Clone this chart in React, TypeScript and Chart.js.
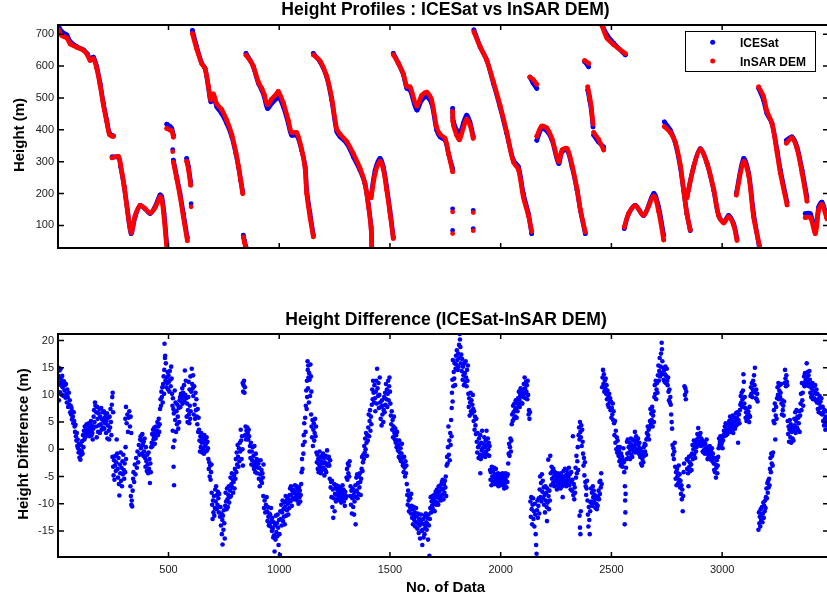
import { useEffect, useRef } from "react";
import { Chart, registerables } from "chart.js";

Chart.register(...registerables);

type Pair = [number, number];

const FONT = "'Liberation Sans', Arial, Helvetica, sans-serif";
const BLUE = "#0000ff";
const RED = "#ff0000";
const INK = "#1a1a1a";

// Axis ranges and tick values
const N_MIN = 1;
const N_MAX = 3478;
const N_TICKS = [500, 1000, 1500, 2000, 2500, 3000];
const HEIGHT_MIN = 29;
const HEIGHT_MAX = 729;
const HEIGHT_TICKS = [100, 200, 300, 400, 500, 600, 700];
const DIFF_MIN = -19.8;
const DIFF_MAX = 21.2;
const DIFF_TICKS = [-15, -10, -5, 0, 5, 10, 15, 20];

const SERIES_NAMES = ["ICESat", "InSAR DEM"];

// ICESat profiles: each inner list is one continuous track of [No. of Data, height (m)]
const ICESAT_TRACKS_0: Pair[][] = [
  [[3, 726], [18, 708], [41, 698], [56, 677], [86, 661], [116, 651], [134, 638], [146, 621], [161, 628], [176, 598], [191, 546], [206, 483], [221, 430], [233, 390], [244, 383], [251, 381]],
  [[245, 315], [274, 313], [284, 284], [300, 221], [315, 147], [331, 74], [349, 126], [372, 163], [394, 152], [417, 137], [439, 158], [462, 196], [470, 189], [480, 137], [492, 42]],
  [[492, 418], [508, 410], [515, 404], [522, 383]],
  [[519, 338]],
  [[522, 305], [537, 252], [552, 200], [567, 137], [585, 61]],
  [[582, 310], [590, 284], [600, 236]],
  [[602, 168]],
  [[608, 712], [627, 661], [650, 609], [665, 593], [680, 535], [691, 488], [703, 504], [718, 472], [740, 451], [763, 420], [786, 378], [804, 326], [816, 284], [826, 242], [835, 205]],
  [[838, 69], [843, 52], [850, 32]],
  [[850, 640], [868, 619], [883, 598], [906, 546], [921, 525], [932, 504], [947, 467], [966, 483], [989, 499], [996, 506], [1019, 472], [1041, 420], [1056, 383], [1079, 383], [1101, 336], [1117, 284], [1124, 210], [1139, 137], [1154, 69]],
];

const ICESAT_TRACKS_1: Pair[][] = [
  [[1154, 640], [1184, 614], [1214, 567], [1237, 493], [1260, 394], [1275, 378], [1305, 357], [1335, 315], [1365, 273], [1387, 231], [1402, 168], [1415, 95], [1418, 32]],
  [[1415, 194], [1433, 273], [1455, 310], [1470, 284], [1485, 221], [1500, 147], [1515, 63]],
  [[1515, 640], [1538, 609], [1561, 572], [1576, 530], [1591, 525], [1621, 462], [1643, 493], [1666, 504], [1688, 483], [1711, 399], [1726, 378], [1749, 367], [1764, 326], [1783, 278]],
  [[1783, 467], [1784, 437], [1787, 425], [1801, 399], [1814, 386], [1831, 420], [1846, 446], [1861, 425], [1876, 380]],
  [[1783, 152]],
  [[1783, 84]],
  [[1876, 147]],
  [[1876, 90]],
  [[1879, 714], [1907, 661], [1937, 619], [1967, 546], [1997, 472], [2027, 389], [2057, 305], [2080, 284], [2102, 200], [2125, 137], [2140, 74]],
  [[2132, 565], [2147, 546], [2163, 530]],
  [[2163, 367], [2185, 404], [2208, 397], [2232, 367], [2262, 294], [2277, 331], [2300, 336], [2322, 284], [2345, 210], [2360, 147], [2382, 74]],
];

const ICESAT_TRACKS_2: Pair[][] = [
  [[2379, 614], [2397, 598]],
  [[2393, 525], [2402, 493], [2409, 462], [2417, 409]],
  [[2420, 383], [2442, 362], [2465, 346]],
  [[2458, 729], [2480, 698], [2510, 672], [2563, 635]],
  [[2558, 90], [2578, 137], [2608, 163], [2646, 131], [2691, 200], [2713, 158], [2736, 69]],
  [[2739, 425], [2766, 399], [2789, 357], [2811, 283], [2826, 210], [2841, 137], [2856, 84]],
  [[2841, 189], [2871, 283], [2901, 341], [2932, 294], [2962, 210], [2984, 131], [3007, 110], [3029, 131], [3052, 105], [3067, 58]],
  [[3064, 200], [3097, 310], [3120, 263], [3142, 137], [3169, 27]],
  [[3165, 530], [3187, 493], [3202, 451], [3225, 420], [3248, 336], [3263, 273], [3293, 173]],
  [[3290, 367], [3315, 378], [3338, 346], [3361, 273], [3383, 189]],
  [[3375, 137], [3398, 137], [3421, 84], [3436, 158], [3451, 173], [3473, 126]],
];

// Height difference ICESat - InSAR DEM: [No. of Data, metres]
const DIFF_0_500: Pair[] = [
  [2, 13.5], [4, 15], [5, 9], [7, 12.2], [8, 14.5], [10, 10.5], [12, 13], [13, 14.8], [15, 11.8], [17, 12.8], [19, 10], [20, 13.5], [22, 11.4], [24, 12.3], [26, 9.8],
  [28, 12.5], [30, 10.8], [32, 11.8], [35, 9.5], [37, 12], [39, 10.2], [41, 8.6], [43, 11], [45, 9.6], [47, 7.8], [50, 10.4], [52, 8.2], [54, 9], [56, 6.8],
  [58, 8], [60, 6.4], [62, 7.6], [64, 5.5], [66, 7], [68, 6], [70, 4.8],
  [72, 6.8], [74, 5.2], [76, 4.2], [78, 3.2], [80, 4.5], [82, 2.4], [84, 1.6], [86, 3], [88, 0.6], [90, 1.8], [92, 0.2], [94, -0.6], [96, 1], [98, -1.5], [100, -0.2], [102, -1.9], [104, 0.8], [106, -1], [108, -0.3],
  [110, 1.5], [112, -0.8], [114, 2.6], [116, 0.4], [118, 3.4], [120, 1.8], [122, 4.2], [124, 2.2], [126, 3.5], [128, 2.8], [130, 4.6],
  [132, 3], [134, 4.2], [136, 2.6], [138, 3.8], [140, 4.8], [142, 3.2], [144, 2.4], [146, 4],
  [148, 3.4], [150, 5.2], [152, 2.6], [154, 4.4], [156, 3], [158, 1.8], [160, 3.8], [162, 6], [164, 7.2], [166, 5], [168, 8.6], [170, 8], [172, 4.2], [174, 6.8], [176, 2.2],
  [178, 7.8], [180, 5.6], [182, 3.2], [184, 6.6], [186, 4.4], [188, 7.4], [190, 3],
  [192, 6], [194, 4.6], [196, 7.6], [198, 3.6], [200, 5.5], [202, 6.8], [204, 4], [206, 5.2], [208, 7], [210, 3.8], [212, 5.8], [214, 4.8], [216, 6.4], [218, 3], [220, 5.2],
  [222, 6.6], [224, 2], [226, 4.4], [228, 5.8], [230, 3.4], [232, 1.8], [234, 6], [236, 4], [238, 7.4], [240, 5], [242, 2.6], [244, 8.2], [246, 9.6], [248, 10.4], [250, 6.8],
  [247, -1.4], [250, -3.2], [252, -4.8], [254, -2], [256, -5.6], [258, -3], [260, -1.2], [262, -4], [264, -2.4], [266, 1.8], [268, -0.8],
  [270, -3.6], [272, -5.2], [274, -1.6], [276, -6.4], [278, -8.5], [280, -2.8], [282, -4.4], [284, -0.6], [286, -5.8], [288, -3.4], [290, -6.8], [292, -2.2], [294, -4.6],
  [296, -1], [298, -3.8], [300, -5.4], [302, -2.6], [304, -4.2], [306, 0.4], [308, -1.8],
  [305, 5.6], [308, 7.8], [311, 4.8], [314, 6.4], [317, 3.2], [320, 5.8], [323, 7], [326, 4.2], [329, 6], [332, 3],
  [328, -6.8], [330, -8.6], [332, -10.2], [334, -9.4], [336, -10.5], [338, -7.6], [340, -5.4],
  [342, -4.2], [345, -6], [348, -2.8], [351, -4.6], [354, -1.6], [357, -3.4], [360, -0.4], [363, -2.4], [366, 0.8], [369, -1], [372, 1.8],
  [374, 2.4], [376, 0.2], [378, 1.6], [380, -0.8], [382, 2.8], [384, 0.8], [386, -1.2], [388, 1.4], [390, -0.4], [392, 2],
  [394, -1.6], [396, -3.2], [398, 0.4], [400, -2.2], [402, -4], [404, -1], [406, -2.8], [408, -4.4], [410, -0.6], [412, -3.6], [414, -1.8], [416, -6.2], [418, -2.6], [420, -4.2], [422, 0.4],
  [424, 1.2], [426, 2.8], [428, 0.6], [430, 3.6], [432, 1.8], [434, 2.4], [436, 4], [438, 1], [440, 3], [442, 2], [444, 4.2], [446, 2.6],
  [448, 3.4], [450, 5], [452, 2.6], [454, 4.2], [456, 5.6], [458, 3.2], [460, 4.6],
  [462, 7.4], [464, 9.2], [466, 8], [468, 10.6], [470, 9.6], [472, 11.4], [474, 8.6], [476, 12],
  [478, 13.4], [480, 10.2], [481, 14.6], [482, 19.4], [484, 16.8], [485, 17.2], [486, 12.6], [488, 15.8], [490, 11.4], [492, 13.2],
  [494, 12.2], [496, 14.2], [498, 11],
];

const DIFF_500_1000: Pair[] = [
  [500, 13.6], [502, 12.4], [504, 10.6], [506, 14.4], [508, 12.8], [510, 11.6], [512, 15.2], [514, 13],
  [516, 10.2], [518, 8], [519, 3.4], [520, 9.4], [521, 0.4], [522, 7.4], [523, -3.2], [524, 6.6], [525, -6.6], [527, 1.6], [528, 10.8],
  [530, 5.4], [532, 8.6], [534, 3.2], [536, 7], [538, 4.6], [540, 8.2], [542, 6], [544, 3.8], [546, 7.6], [548, 5], [550, 9],
  [552, 9.6], [554, 7.8], [556, 10.2], [558, 8.8],
  [560, 9.2], [562, 11.2], [564, 8.4], [566, 10.4], [568, 9.8], [570, 11.8], [572, 8.8], [574, 14.5], [576, 10], [578, 12.6], [580, 9.4],
  [582, 6], [584, 8.4], [586, 5], [588, 7.2], [590, 9.6], [592, 6.4], [594, 4.8], [596, 8], [598, 5.6], [600, 7],
  [591, 12.4], [595, 11], [599, 13.4], [603, 10.6], [605, 14.8], [607, 12], [609, 11.2], [611, 13.6],
  [612, 9.8], [614, 6.4], [616, 11.6], [618, 8.2], [620, 5.6], [622, 10.4], [624, 7.2], [626, 9.2], [628, 6],
  [630, 4.6], [632, 7.4], [634, 3.2], [636, 5.8],
  [638, 3.6], [640, 1.6], [642, -0.4], [644, 2.4], [646, 0.4], [648, 3], [650, 1.2],
  [652, -0.6], [654, 2], [656, 0], [658, 1.4], [660, -0.8], [662, 2.6], [664, 0.6], [666, 1.8], [668, -0.4], [670, 1], [672, 2.2], [674, -0.2], [676, 1.4], [678, 0.2],
  [680, -1.8], [682, -3.6], [684, -2.4], [686, -5], [688, -3], [690, -5.6], [692, -4.2], [694, -2.8],
  [695, -8], [697, -10.2], [699, -12.8], [701, -9.4], [703, -11.6], [705, -8.6], [707, -12.2], [709, -10.8],
  [711, -7.4], [713, -9.6], [715, -6.8], [717, -11], [719, -8.4], [721, -10.2], [723, -7.8], [725, -9], [727, -11.6], [729, -8.2], [731, -10.6],
  [733, -12.4], [735, -10.6], [737, -14], [739, -11.8], [741, -15.6], [743, -13], [744, -17.5], [746, -12.2], [748, -14.8], [750, -11.2], [752, -13.6], [754, -16.4],
  [756, -10.4], [758, -8], [760, -9.6], [762, -11], [764, -7.2], [766, -9.2], [768, -10.6], [770, -8.4], [772, -6.8], [774, -9.8], [776, -8.8],
  [778, -7.6], [780, -5.2], [782, -8.6], [784, -6.4], [786, -4.4], [788, -7], [790, -5.6], [792, -8], [794, -6], [796, -4.8], [798, -7.2],
  [800, -3.6], [802, -5.4], [804, -1.8], [806, -4.2], [808, -0.6], [810, -2.8], [812, 0.8], [814, -1.4], [816, -3.2], [818, 0.2], [820, -2.2], [822, 1.2],
  [824, -0.4], [826, 3.6], [828, 1.6], [830, -1.8], [832, 2.4], [834, 0], [836, -3],
  [835, 12.2], [837, 10.6], [839, 11.8], [841, 12.6], [843, 10.4], [845, 11.4],
  [846, 2.6], [848, 4.2], [850, 1.8], [852, 3.4], [854, 2.2], [856, 4], [858, 3], [860, 1.8], [862, 3.6], [864, 2.4], [866, -0.4],
  [868, 0.6], [870, -1.6], [872, 1.2], [874, -2.8], [876, -0.4], [878, -2], [880, 0.4], [882, -3],
  [884, -1.2], [886, -3.6], [888, 0.6], [890, -2.4], [892, -4.2], [894, -0.8], [896, -3], [898, -1.8], [900, -4.4], [902, -2], [904, -3.4],
  [906, -2.6], [908, -5.4], [910, -3.4], [912, -6.8], [914, -4.6], [916, -2], [918, -5.8], [920, -3.8], [922, -6.2], [924, -4.4], [926, -5.2], [929, -2.8],
  [928, -8.6], [931, -10.8], [934, -9.4], [937, -11.6], [940, -10.2], [943, -8.8],
  [945, -11.4], [947, -13.2], [949, -10.6], [951, -12.4], [953, -14], [955, -11.8], [957, -13.6], [959, -12], [961, -14.2], [963, -10.8], [965, -13],
  [967, -15], [969, -12.6], [971, -14.6], [973, -16.2], [975, -13.4], [977, -15.8], [979, -18.8], [981, -14], [983, -16.6], [985, -12.2], [987, -15.2],
  [989, -13.6], [991, -16], [993, -12], [995, -14.4], [997, -17.6], [999, -13],
];

const DIFF_1000_1500: Pair[] = [
  [1001, -15.6], [1003, -19.4], [1005, -11.4],
  [1007, -12.8], [1009, -10.2], [1011, -14], [1013, -11.6], [1015, -9.4], [1017, -13.2], [1019, -11], [1021, -12.4], [1023, -9.8], [1025, -13.8],
  [1027, -10.6], [1029, -8.6], [1031, -12.2], [1033, -9.4], [1035, -11.2], [1037, -8.8], [1039, -10], [1041, -12], [1043, -9.2], [1045, -10.8], [1047, -8.4],
  [1049, -7.2], [1051, -9.6], [1053, -6.8], [1055, -8.4], [1057, -10.4], [1059, -7.6], [1061, -9], [1063, -8],
  [1065, -7.4], [1067, -9.2], [1069, -8], [1071, -6.6], [1073, -9], [1075, -7.8], [1077, -8.6], [1079, -6.8], [1081, -9.4], [1083, -7.2], [1085, -8.2], [1087, -10], [1089, -7], [1091, -8.8], [1093, -7.6], [1095, -9.6], [1097, -8.4], [1099, -6.4],
  [1101, -4.2], [1103, -1.8], [1105, -3.6], [1107, 0.8], [1109, -0.8], [1111, 2.6], [1113, 4.8], [1115, 1.4], [1117, 5.8], [1119, 3.2],
  [1120, 8], [1122, 10.8], [1124, 7.4], [1125, 12.6], [1126, 9.6], [1128, 16.2], [1129, 14.6], [1130, 11.2], [1131, 15.4], [1132, 13.2], [1134, 8.6], [1135, 14], [1137, 12.8], [1139, 9.8], [1141, 15.6], [1143, 13.4], [1145, 10.6],
  [1144, 6.4], [1146, 4.2], [1148, 2.2], [1150, 5.4], [1152, 0.6], [1154, 3.6], [1156, 4.8], [1158, 1.6], [1160, 3], [1162, 5.6], [1164, 2.4], [1166, 4.2],
  [1168, -0.6], [1170, -2.4], [1172, -1], [1174, -3.6], [1176, -1.8], [1178, -4.2], [1180, -2.8], [1182, -0.4], [1184, -3.2], [1186, -1.4], [1188, -4.4], [1190, -2.2], [1192, -3.8], [1194, -1.2], [1196, -2.6], [1198, -0.8],
  [1200, -3.4], [1202, -1.6], [1204, -4.8], [1206, -2.4], [1208, -3.8], [1210, -1.2], [1212, -4.2], [1214, -2.8], [1216, -0.2], [1218, -3], [1220, -1.6],
  [1222, -2.6], [1224, -1.4], [1226, -3], [1228, -5.4], [1230, -2], [1232, -7], [1234, -6], [1236, -8.8], [1238, -5.8], [1240, -10.6], [1242, -7.4], [1244, -12.6], [1246, -9], [1248, -6.4], [1250, -11.4], [1252, -8.2], [1254, -7], [1256, -9.6], [1258, -6.6],
  [1260, -8.4], [1262, -7.4], [1264, -9.2], [1266, -8], [1268, -6.8], [1270, -8.8], [1272, -7.6], [1274, -9.4], [1276, -7], [1278, -8.4], [1280, -9.8], [1282, -7.8], [1284, -8.6], [1286, -6.6], [1288, -9],
  [1290, -7.4], [1292, -9.6], [1294, -8.2], [1296, -10.4], [1298, -7.8], [1300, -9], [1302, -8.6], [1304, -5.2], [1306, -3.6], [1308, -5.6], [1310, -2.6], [1312, -4.4], [1314, -3], [1316, -5], [1318, -2.2],
  [1320, -8.6], [1322, -6.8], [1324, -10.2], [1326, -7.6], [1328, -11.8], [1330, -9], [1332, -7.2], [1334, -10.6], [1336, -8.4], [1338, -12], [1340, -9.6], [1342, -7.8], [1345, -13.8],
  [1344, -6.6], [1346, -8.8], [1348, -5.2], [1350, -7.6], [1352, -4.6], [1354, -9], [1356, -6.2], [1358, -8.2], [1360, -5], [1362, -7], [1364, -4.4], [1366, -6], [1368, -8.4], [1370, -5.4],
  [1372, -3.6], [1374, -1.4], [1376, -4], [1378, -2.4], [1380, -1],
  [1382, -1.8], [1384, 0.6], [1386, -0.6], [1388, 2], [1390, 0], [1392, 3], [1394, 1.2], [1396, -1.2], [1398, 2.6], [1400, 1.6],
  [1402, 4], [1404, 6.4], [1406, 2.4], [1408, 5.2], [1410, 7.2], [1412, 3.4], [1414, 6], [1416, 4.6],
  [1418, 8.2], [1420, 11], [1422, 9.2], [1424, 12.6], [1426, 10.4], [1428, 8.6], [1430, 11.8],
  [1432, 9.4], [1434, 7], [1436, 10.6], [1438, 12.6], [1440, 8.4], [1442, 14.8], [1444, 11.2], [1446, 9.8], [1448, 12.2], [1450, 7.6], [1452, 10], [1454, 13.2],
  [1456, 8.6], [1458, 5.6], [1460, 7.8], [1462, 4.4], [1464, 9], [1466, 6.4], [1468, 8], [1470, 5], [1472, 7.2], [1474, 9.6], [1476, 6.8],
  [1478, 10.4], [1480, 8.2], [1482, 12], [1484, 9.2], [1486, 11], [1488, 7.8], [1490, 10.2], [1492, 12.6], [1494, 9], [1496, 11.6], [1498, 13.2],
];

const DIFF_1500_2000: Pair[] = [
  [1500, 10.6],
  [1502, 8.4], [1504, 6.2], [1506, 4.6], [1508, 7], [1510, 3.6], [1512, 5.4], [1514, 2.2], [1516, 4.2], [1518, 6], [1520, 3], [1522, 1.8],
  [1524, 3.8], [1526, 1.2], [1528, 2.6], [1530, 0.4], [1532, 3.2], [1534, 1.6], [1536, -0.2],
  [1538, 0.8], [1540, -1.4], [1542, 1.6], [1544, -0.6], [1546, -1.8], [1548, 0.2], [1550, -2.2], [1552, -0.8], [1554, 1], [1556, -1.6], [1558, -3],
  [1560, -2.6], [1562, -4.2], [1564, -1.4], [1566, -3.4], [1568, -5], [1570, -2.2], [1572, -4.4], [1574, -3],
  [1576, -6.4], [1578, -8.4], [1580, -10.2], [1582, -7.6], [1584, -9.4], [1586, -11.4], [1588, -8.8], [1590, -10.6], [1592, -9], [1594, -11.8], [1596, -8.2],
  [1598, -10.4], [1600, -12.6], [1602, -11], [1604, -13.8], [1606, -12], [1608, -10.6], [1610, -13], [1612, -11.6], [1614, -14.2], [1616, -12.4], [1618, -10.8], [1620, -13.4],
  [1622, -12.2], [1624, -14.6], [1626, -11.8], [1628, -13.6], [1630, -15.4], [1632, -12.8], [1634, -14], [1636, -16.4], [1638, -13.2], [1640, -12], [1642, -15],
  [1644, -13.6], [1646, -17.6], [1648, -14.8], [1650, -12.8], [1652, -16.2], [1654, -13.8], [1656, -15.6],
  [1658, -12.2], [1660, -14.4], [1662, -11.8], [1664, -13.4], [1666, -14.8], [1668, -12.6], [1670, -13.8], [1672, -16.6], [1674, -12], [1676, -14], [1678, -19.6], [1680, -12.8],
  [1682, -10.8], [1684, -8.8], [1686, -11.6], [1688, -9.6], [1690, -10.4], [1692, -8.6], [1694, -11], [1696, -9.2], [1698, -10], [1700, -8.4], [1702, -11.4], [1704, -9.6], [1706, -7.8], [1708, -10.2], [1710, -8.8],
  [1712, -7.4], [1714, -9.8], [1716, -8.2], [1718, -10.2], [1720, -6.8], [1722, -9], [1724, -7.8], [1726, -8.8], [1728, -6.6], [1730, -9.4], [1732, -7.2],
  [1734, -6], [1736, -8.4], [1738, -5.6], [1740, -7.4], [1742, -9.2], [1744, -6.4], [1746, -8], [1748, -5.8], [1750, -7], [1752, -5], [1754, -8.6],
  [1756, -3], [1758, -1.4], [1760, -2.6], [1762, 0.4], [1764, 4.2], [1766, -1], [1768, 1.6], [1770, -2], [1772, 3], [1774, 0.8], [1776, 5.4], [1778, 2.4],
  [1779, 7.6], [1780, 10.4], [1782, 12.8], [1783, 8.8], [1784, 16.4], [1786, 11.6], [1788, 14.2], [1790, 13], [1792, 15.8], [1794, 11.8],
  [1796, 14.8], [1798, 17.2], [1800, 15.6], [1802, 18.2], [1804, 16.4], [1806, 14.6], [1808, 17.6], [1810, 15.2], [1812, 19.2], [1814, 16.8], [1815, 21.2], [1816, 20.2], [1818, 18.8], [1820, 15.8], [1822, 17.4],
  [1824, 14.4], [1826, 16.6], [1828, 12.8], [1830, 15.2], [1832, 13.6], [1834, 11.8], [1836, 15.8], [1838, 14], [1840, 12.4], [1842, 16.2], [1844, 13.2], [1846, 11.6], [1848, 14.6], [1850, 12.6], [1852, 15.4],
  [1854, 10.2], [1856, 7.8], [1858, 9.4], [1860, 6.2], [1862, 8.6], [1864, 10.4], [1866, 7], [1868, 9], [1870, 6.6], [1872, 8.2], [1874, 10], [1876, 7.4],
  [1878, 5.2], [1880, 7], [1882, 3.6], [1884, 6], [1886, 4.4], [1888, 2.8], [1890, 5.6],
  [1892, 1.4], [1894, -0.6], [1896, 3], [1898, 0.4], [1900, -1.6], [1902, 2], [1904, 0.8], [1906, -1], [1908, 2.6], [1910, -1.8], [1912, 1.2], [1914, -0.2], [1916, 3.4], [1918, 0.2], [1920, -1.2],
  [1922, 1], [1924, -0.8], [1926, 2.2], [1928, 0.4], [1930, -1.4], [1932, 1.6], [1934, -0.4], [1936, 3.4], [1938, 0.8], [1940, -1], [1942, 2], [1944, 0], [1946, 1.2], [1948, -1.2], [1950, 0.6],
  [1908, -4.4], [1952, -3.8], [1954, -5.6], [1956, -4.2], [1958, -6.6], [1960, -3.2], [1962, -5], [1964, -6], [1966, -4], [1968, -5.4], [1970, -3.4], [1972, -6.4], [1974, -4.6], [1976, -5.8], [1978, -3.6], [1980, -5.2],
  [1982, -6.4], [1984, -4.8], [1986, -5.8], [1988, -4.4], [1990, -6.8], [1992, -5.2], [1994, -6], [1996, -4.6], [1998, -5.6],
];

const DIFF_2000_2500: Pair[] = [
  [2000, -6.6], [2002, -4.8], [2004, -5.4], [2006, -6.2], [2008, -4.4], [2010, -5.8],
  [2012, -6.6], [2014, -4.8], [2016, -7.2], [2018, -5.4], [2020, -6.2], [2022, -4.4], [2024, -5.8], [2026, -7], [2028, -5], [2030, -6], [2032, -4.6],
  [2034, -2.6], [2036, -0.8], [2038, 1], [2040, -1.2], [2042, 0.4], [2044, 2], [2046, -0.4], [2048, 1.6],
  [2050, 4.6], [2052, 6.4], [2054, 5.2], [2056, 8], [2058, 6.8], [2060, 5.6], [2062, 8.4], [2064, 7.2], [2066, 6], [2068, 9], [2070, 7.6], [2072, 5.8], [2074, 8.6], [2076, 7], [2078, 9.4],
  [2080, 8.2], [2082, 10.6], [2084, 9.2], [2086, 7.8], [2088, 10], [2090, 11.2], [2092, 8.6], [2094, 9.8], [2096, 11], [2098, 8.4], [2100, 10.4],
  [2102, 9.6], [2104, 12], [2106, 10.2], [2108, 13.2], [2110, 11.2], [2112, 9.4], [2114, 12.4], [2116, 10.6], [2118, 11.8], [2120, 9.2], [2122, 12.6], [2124, 10],
  [2126, 6.4], [2128, 7.2], [2130, 5.6], [2132, 6.8],
  [2134, -9.6], [2136, -12.4], [2138, -8.8], [2140, -11], [2142, -13.8], [2144, -10.2], [2146, -9], [2148, -12.8], [2150, -11.4], [2152, -14.2], [2154, -10], [2156, -12], [2158, -15.6], [2160, -17.6], [2162, -19.2],
  [2164, -11.2], [2166, -9.4], [2168, -12.6], [2170, -10.4], [2172, -9], [2174, -11.8],
  [2176, -7.4], [2178, -5], [2180, -8.8], [2182, -6.2], [2184, -9.6], [2186, -4.6], [2188, -7.8], [2190, -5.8], [2192, -9],
  [2194, -7], [2196, -10.2], [2198, -8.4], [2200, -11.6], [2202, -6.8], [2204, -9.4], [2206, -8], [2208, -10.6], [2209, -13.2], [2210, -7.2], [2212, -9.8], [2215, -1.9], [2216, -8.6], [2218, -11], [2220, -7.6], [2222, -9.4],
  [2224, -1.2], [2226, -4.4], [2228, -6.6], [2230, -3.2], [2232, -5.4], [2234, -4], [2236, -6.2], [2238, -3.6], [2240, -5], [2242, -6.8], [2244, -4.2], [2246, -5.8],
  [2248, -4.6], [2250, -6.6], [2252, -5.2], [2254, -7.4], [2256, -4.4], [2258, -6], [2260, -5.4], [2262, -7], [2264, -4.8], [2266, -6.4], [2268, -5.6], [2270, -7.2], [2272, -4.4], [2274, -6.2], [2276, -5], [2278, -6.8], [2280, -8.8], [2282, -5.6],
  [2284, -4], [2286, -6.4], [2288, -5], [2290, -3.6], [2292, -6], [2294, -4.8], [2296, -6.8], [2298, -3.8], [2300, -5.6], [2302, -4.4], [2304, -6.2], [2306, -5.2], [2308, -3.4], [2310, -6.6], [2312, -4.6], [2314, -5.8], [2316, -7.4], [2318, -4.2], [2320, -6],
  [2322, -7.6], [2324, -5.6], [2326, 2.4], [2328, -8.4], [2330, -6.4], [2332, -9.2], [2334, -7], [2336, -8],
  [2338, -3.4], [2340, -5.2], [2342, -1.2], [2344, -4.4], [2346, -2.2], [2348, 0.4], [2350, -3.8],
  [2352, 2.6], [2354, 4], [2356, 1.8], [2358, 5], [2360, 3.2], [2362, 2.2], [2364, 4.4], [2366, 0.6], [2368, 3.6], [2370, 1.4],
  [2356, -12.2], [2358, -14.4], [2360, -15.6], [2362, -11.4],
  [2372, -0.8], [2374, -3], [2376, -1.6], [2378, -4.8], [2380, -2.4], [2382, -6],
  [2384, -6.8], [2386, -8.4], [2388, -7.2], [2390, -5.8],
  [2392, -9.4], [2394, -12], [2396, -14.2], [2398, -10.6], [2400, -13], [2402, -15.6], [2404, -11.4], [2406, -9.8],
  [2408, -7.2], [2410, -9.6], [2412, -8], [2414, -10.4], [2416, -6.8], [2418, -8.8], [2420, -7.6], [2422, -9.8], [2424, -8.4],
  [2426, -9.2], [2428, -10.8], [2430, -8.6], [2432, -10], [2434, -11], [2436, -9], [2438, -10.4], [2440, -8.8],
  [2442, -7.6], [2444, -9.2], [2446, -6], [2448, -8.2], [2450, -5.8], [2452, -7], [2454, -4.4], [2456, -6.4],
  [2458, 11.4], [2460, 13.2], [2462, 14.6], [2464, 12], [2466, 13.8], [2468, 10.6], [2470, 12.6], [2472, 11.2], [2474, 13], [2476, 10.2], [2478, 11.8],
  [2480, 9.2], [2482, 10.8], [2484, 8.2], [2486, 9.8], [2488, 7.8], [2490, 10.2], [2492, 8.6], [2494, 9.4],
  [2496, 7.2], [2498, 8.8],
];

const DIFF_2500_3000: Pair[] = [
  [2500, 5.8], [2502, 7.6], [2504, 6.4], [2506, 8.4], [2508, 5.4], [2510, 7],
  [2512, 4.8], [2514, 2.6], [2516, 5.2], [2518, 1.2], [2520, 3.4], [2522, 0], [2524, 2.2], [2526, -0.6], [2528, 1.6], [2530, 0.4], [2532, -1.2],
  [2534, -0.2], [2536, -2.2], [2538, 0.4], [2540, -1.6], [2542, -3], [2544, -0.8], [2546, -2.6], [2548, -1.4], [2550, -3.2], [2552, -2], [2554, 0.2],
  [2556, -2.4], [2558, -4.2], [2560, -13.8], [2561, -6.8], [2562, -9.4], [2563, -11.6], [2564, -8.2], [2566, -3.4], [2568, -1.8],
  [2570, 1.4], [2572, -0.8], [2574, 1.8], [2576, -1.6], [2578, 0.4], [2580, -0.6], [2582, 1.2], [2584, -1.8], [2586, 0], [2588, 2], [2590, -1], [2592, 0.8], [2594, -1.4], [2596, 0.2], [2598, 1.6],
  [2600, -0.4], [2602, 1.8], [2604, 0.6], [2606, 3.2], [2608, -0.6], [2610, 1], [2612, 2.4], [2614, 0], [2616, 1.4], [2618, -0.2], [2620, 2], [2622, 0.8], [2624, -0.8], [2626, 1.2], [2628, 0.2],
  [2630, -1.4], [2632, -0.2], [2634, -2.6], [2636, -1], [2638, -3], [2640, -1.8], [2642, -0.6], [2644, -2.4],
  [2646, 0.4], [2648, -1.2], [2650, 1], [2652, -0.4], [2654, 0.8], [2656, -1], [2658, 1.8], [2660, 3], [2662, 2], [2664, 4.2], [2666, 2.6], [2668, 3.6], [2670, 1.8], [2672, 4],
  [2674, 5.2], [2676, 7.4], [2678, 4.6], [2680, 6.6], [2682, 5.4], [2684, 7.8], [2686, 4.2], [2688, 6.2], [2690, 7], [2692, 5],
  [2694, 9.6], [2696, 11.8], [2698, 10.2], [2700, 12.6], [2702, 9.2], [2704, 11], [2706, 12.2], [2708, 10.4],
  [2710, 13.6], [2712, 15.4], [2714, 12.6], [2716, 14.4], [2718, 16.8], [2720, 13.4], [2722, 15.2], [2724, 17.6], [2726, 14], [2727, 19.6], [2728, 18.4], [2730, 16.2], [2732, 13.8], [2734, 15], [2736, 12.8],
  [2738, 14.6], [2740, 12.4], [2742, 13.8], [2744, 15.2], [2746, 12.2], [2748, 13.4], [2750, 14.8], [2752, 12.6], [2754, 11.8], [2756, 13.2],
  [2758, 10.6], [2760, 9], [2762, 11], [2764, 8.6], [2766, 9.6], [2768, 8.2], [2770, 6.4], [2772, 5], [2774, 3.8],
  [2776, 0.8], [2778, -1], [2780, 0.2], [2782, -1.8], [2784, -0.4], [2786, 1.2],
  [2788, -3.2], [2790, -5.4], [2792, -4.2], [2794, -6.6], [2796, -3.6], [2798, -5], [2800, -4.4], [2802, -6.2], [2804, -3], [2806, -5.6], [2808, -4.6], [2810, -7],
  [2812, -5.8], [2814, -8.2], [2816, -6.6], [2818, -9.2], [2820, -7.4], [2822, -11.4], [2824, -8.6],
  [2826, -4.2], [2828, -2.6], [2830, 11.6], [2832, 10], [2834, 11.2], [2836, 9.2], [2838, 10.6],
  [2840, -1.8], [2842, -3.6], [2844, -2], [2846, -4.4], [2848, -6.8], [2850, -1.4], [2852, -3.2], [2854, -2.4], [2856, -4], [2858, -1.2], [2860, -2.8], [2862, -3.8],
  [2864, -0.8], [2866, 0.8], [2868, -1.8], [2870, 0], [2872, 1.6], [2874, -1], [2876, 0.6], [2878, -1.6], [2880, 1.2], [2882, -0.4], [2884, 0.4],
  [2886, 1.8], [2888, 2.8], [2890, 1], [2892, 3.9], [2894, 2.2], [2896, 0.8], [2898, 2.6], [2900, 1.4], [2902, 3], [2904, 0.6], [2906, 2], [2908, 1.2],
  [2910, 1.6], [2912, -0.4], [2914, 0.8], [2916, -0.6], [2918, 1.4], [2920, 0], [2922, -0.8], [2924, 1], [2926, 0.2], [2928, -0.4], [2930, 1.8],
  [2932, -0.6], [2934, -1.8], [2936, 0.4], [2938, -1.2], [2940, -0.2], [2942, -1.6], [2944, 0.6], [2946, -1], [2948, -1.9], [2950, -0.4], [2952, -1.4], [2954, 0.2], [2956, -2.2], [2958, -0.8], [2960, -1.6],
  [2962, -2.6], [2964, -3.8], [2966, -1.6], [2968, -4.2], [2970, -2.8], [2972, -5.2], [2974, -3.4], [2976, -2], [2978, -4.4], [2980, -3], [2982, -1.4],
  [2984, 0.2], [2986, 2], [2988, 0.8], [2990, 1.4], [2992, 2.4], [2994, 0.4], [2996, 1.8], [2998, 1],
];

const DIFF_3000_END: Pair[] = [
  [3000, 2.2], [3002, 0.2], [3004, 1.6], [3006, 2.6],
  [3008, 3.4], [3010, 2.4], [3012, 4.2], [3014, 3], [3016, 4.8], [3018, 2.6], [3020, 3.8], [3022, 4.4], [3024, 2.8], [3026, 3.6], [3028, 4.6],
  [3030, 3.4], [3032, 5.2], [3034, 4], [3036, 6], [3038, 3.2], [3040, 4.8], [3042, 5.6], [3044, 3.6], [3046, 4.4], [3048, 6.2], [3050, 3], [3052, 5], [3054, 4.2], [3056, 5.8], [3058, 3.8],
  [3060, 5.2], [3062, 6.6], [3064, 4.4], [3066, 5.8], [3068, 6.8], [3070, 4.6], [3072, 1.2], [3074, 5.4], [3076, 6.4], [3078, 4.8], [3080, 7.2],
  [3082, 8.2], [3084, 9.8], [3086, 8.6], [3088, 10.4], [3090, 7.8], [3092, 9.2], [3094, 10.8], [3096, 13.8], [3098, 12.4], [3100, 8.4], [3102, 9.6],
  [3104, 7.6], [3106, 5.8], [3108, 6.8], [3110, 5.2], [3112, 7.4], [3114, 6.2], [3116, 5.6], [3118, 7], [3120, 6.4], [3122, 5], [3124, 7.8], [3126, 6],
  [3128, 9.8], [3130, 11.4], [3132, 10.2], [3134, 12.2], [3136, 9.6], [3138, 11], [3140, 12.6], [3142, 10.6], [3144, 13.6], [3146, 11.8], [3148, 15], [3150, 10.4],
  [3152, 9.4], [3154, 11], [3156, 9.2], [3158, 10.2], [3160, 8.8],
  [3164, -14.8], [3166, -11.6], [3168, -13.6], [3170, -12.4], [3172, -14.2], [3174, -11], [3176, -13], [3178, -12], [3180, -10.6], [3182, -13.4], [3184, -11.8], [3186, -9.8], [3188, -12.6], [3190, -10.4], [3192, -11.4], [3194, -9.4], [3196, -10.8],
  [3198, -8.8], [3200, -7.2], [3202, -9], [3204, -6.2], [3206, -8], [3208, -5.8], [3210, -7], [3212, -5.4], [3214, -6.6],
  [3216, -3.6], [3218, -1.6], [3220, -4.2], [3222, -0.8], [3224, -2.6], [3226, -1.2], [3228, -3], [3230, -0.6],
  [3232, 5.2], [3234, 7.2], [3236, 4.8], [3238, 8.4], [3240, 1.8], [3242, 6.2], [3244, 7.8], [3246, 5.6],
  [3248, 9.4], [3250, 11.4], [3252, 10], [3254, 12.2], [3256, 9.2], [3258, 10.8], [3260, 11.8], [3262, 9.6], [3264, 10.4], [3266, 12],
  [3268, 8.4], [3270, 6.4], [3272, 9], [3274, 7.2], [3276, 8], [3278, 6.2], [3280, 8.8],
  [3282, 12.2], [3284, 14.6], [3286, 13], [3288, 11.6], [3290, 13.6], [3292, 12.4], [3294, 11.8],
  [3296, 5.2], [3298, 2.8], [3300, 4.2], [3302, 1.4], [3304, 3.6], [3306, 5.4], [3308, 2.2], [3310, 4.6], [3312, 1.2], [3314, 3.2], [3316, 4], [3318, 2], [3320, 3.8], [3322, 1.6],
  [3324, 3.4], [3326, 5.6], [3328, 4.4], [3330, 6.8], [3332, 3], [3334, 5.2], [3336, 7.2], [3338, 4], [3340, 6], [3342, 3.6], [3344, 5.8], [3346, 4.8], [3348, 7], [3350, 3.2], [3352, 6.2],
  [3354, 8.4], [3356, 10.2], [3358, 7.2], [3360, 12.2], [3362, 9], [3364, 10.4], [3366, 8],
  [3368, 12], [3370, 13.4], [3372, 11.6], [3374, 14], [3376, 12.6], [3378, 13.2], [3380, 11.8], [3382, 15.8], [3384, 13], [3386, 14.2], [3388, 12.2], [3390, 13.6], [3392, 11.6], [3394, 14.4], [3396, 12.8],
  [3398, 10.4], [3400, 12], [3402, 9.6], [3404, 11.2], [3406, 10], [3408, 12.2], [3410, 9.2], [3412, 10.8], [3414, 11.6], [3416, 9.4], [3418, 10.6], [3420, 11.8], [3422, 9], [3424, 10.2], [3426, 11],
  [3428, 8.6], [3430, 10.2], [3432, 7.4], [3434, 9.2], [3436, 6.8], [3438, 8.4], [3440, 9.8], [3442, 7.6], [3444, 8.8], [3446, 6.6], [3448, 9.4], [3450, 7.8],
  [3452, 6.4], [3454, 7.8], [3456, 5.2], [3458, 6.8], [3460, 4.4], [3462, 7.2], [3464, 5.6], [3466, 3.6], [3468, 6], [3470, 4.8], [3472, 7], [3474, 5.4], [3476, 4.2],
];

const ICESAT_TRACKS: Pair[][] = [...ICESAT_TRACKS_0, ...ICESAT_TRACKS_1, ...ICESAT_TRACKS_2];
const DIFF_ALL: Pair[] = [
  ...DIFF_0_500, ...DIFF_500_1000, ...DIFF_1000_1500, ...DIFF_1500_2000,
  ...DIFF_2000_2500, ...DIFF_2500_3000, ...DIFF_3000_END,
];

// Local mean of the difference series around a data number
function localDiff(n: number): number {
  let sum = 0;
  let count = 0;
  for (const [dn, dv] of DIFF_ALL) {
    if (Math.abs(dn - n) <= 12) {
      sum += dv;
      count += 1;
    }
  }
  return count ? sum / count : 0;
}

type Pt = { x: number; y: number | null };

// Flatten tracks into one series, with a null point between tracks to break the line
function trackSeries(value: (n: number, h: number) => number): Pt[] {
  const out: Pt[] = [];
  for (const track of ICESAT_TRACKS) {
    for (const [n, h] of track) out.push({ x: n, y: value(n, h) });
    out.push({ x: track[track.length - 1][0], y: null });
  }
  return out;
}

const ICESAT_POINTS = trackSeries((_n, h) => h);
const INSAR_POINTS = trackSeries((n, h) => h - localDiff(n));
const DIFF_POINTS: Pt[] = DIFF_ALL.map(([n, v]) => ({ x: n, y: v }));

// Layout (page pixels)
const CANVAS_W = 840;
const TOP_H = 290;
const BOTTOM_TOP = 290;
const BOTTOM_H = 312;
const PLOT_LEFT = 58;
const PLOT_RIGHT = 828;

function drawFrame(chart: any, xTicks: number[], yTicks: number[]) {
  const { ctx, chartArea: a, scales } = chart;
  ctx.save();
  ctx.strokeStyle = "#000";
  ctx.lineWidth = 1.5;
  ctx.beginPath();
  for (const v of xTicks) {
    const px = scales.x.getPixelForValue(v);
    ctx.moveTo(px, a.bottom);
    ctx.lineTo(px, a.bottom - 5);
    ctx.moveTo(px, a.top);
    ctx.lineTo(px, a.top + 5);
  }
  for (const v of yTicks) {
    const py = scales.y.getPixelForValue(v);
    ctx.moveTo(a.left, py);
    ctx.lineTo(a.left + 6, py);
    ctx.moveTo(a.right, py);
    ctx.lineTo(a.right - 5, py);
  }
  ctx.stroke();
  ctx.lineWidth = 2;
  ctx.strokeRect(a.left, a.top, a.right - a.left, a.bottom - a.top);
  ctx.restore();
}

function drawText(ctx: CanvasRenderingContext2D, text: string, x: number, y: number, font: string, align: CanvasTextAlign = "center", color = "#000") {
  ctx.save();
  ctx.font = font;
  ctx.fillStyle = color;
  ctx.textAlign = align;
  ctx.textBaseline = "alphabetic";
  ctx.fillText(text, x, y);
  ctx.restore();
}

function drawVertical(ctx: CanvasRenderingContext2D, text: string, x: number, y: number, font: string) {
  ctx.save();
  ctx.translate(x, y);
  ctx.rotate(-Math.PI / 2);
  ctx.font = font;
  ctx.fillStyle = "#000";
  ctx.textAlign = "center";
  ctx.textBaseline = "alphabetic";
  ctx.fillText(text, 0, 0);
  ctx.restore();
}

function drawDot(ctx: CanvasRenderingContext2D, x: number, y: number, color: string) {
  ctx.save();
  ctx.fillStyle = color;
  ctx.beginPath();
  ctx.arc(x, y, 2.5, 0, Math.PI * 2);
  ctx.fill();
  ctx.restore();
}

const profileDecor = {
  id: "profileDecor",
  afterDraw(chart: any) {
    const ctx: CanvasRenderingContext2D = chart.ctx;
    drawFrame(chart, N_TICKS, HEIGHT_TICKS);
    drawText(ctx, "Height Profiles : ICESat vs InSAR DEM)", 445.5, 15, `bold 17.6px ${FONT}`);
    drawVertical(ctx, "Height (m)", 24, 135, `bold 15px ${FONT}`);
    // legend
    ctx.save();
    ctx.fillStyle = "#fff";
    ctx.fillRect(685.5, 31.5, 130, 40);
    ctx.strokeStyle = "#000";
    ctx.lineWidth = 1;
    ctx.strokeRect(685.5, 31.5, 130, 40);
    ctx.restore();
    drawDot(ctx, 712.7, 42.3, BLUE);
    drawDot(ctx, 712.7, 61, RED);
    drawText(ctx, SERIES_NAMES[0], 740, 46.7, `bold 12px ${FONT}`, "left");
    drawText(ctx, SERIES_NAMES[1], 740, 65.7, `bold 12px ${FONT}`, "left");
  },
};

const diffDecor = {
  id: "diffDecor",
  afterDraw(chart: any) {
    const ctx: CanvasRenderingContext2D = chart.ctx;
    drawFrame(chart, N_TICKS, DIFF_TICKS);
    drawText(ctx, "Height Difference (ICESat-InSAR DEM)", 446, 324.5 - BOTTOM_TOP, `bold 17.6px ${FONT}`);
    drawVertical(ctx, "Height Difference (m)", 27.7, 444 - BOTTOM_TOP, `bold 15px ${FONT}`);
    drawText(ctx, "No. of Data", 445.5, 591.5 - BOTTOM_TOP, `bold 15px ${FONT}`);
  },
};

const tickFont = { family: FONT, size: 11 };

export default function App() {
  const topRef = useRef<HTMLCanvasElement>(null);
  const bottomRef = useRef<HTMLCanvasElement>(null);

  useEffect(() => {
    if (!topRef.current || !bottomRef.current) return;

    const lineStyle = {
      showLine: true,
      borderWidth: 4.6,
      pointRadius: 2.4,
      pointBorderWidth: 0,
      pointHoverRadius: 0,
      tension: 0.3,
      borderCapStyle: "round" as const,
      borderJoinStyle: "round" as const,
      spanGaps: false,
    };

    const top = new Chart(topRef.current, {
      type: "scatter",
      data: {
        datasets: [
          { label: SERIES_NAMES[0], data: ICESAT_POINTS as any, borderColor: BLUE, backgroundColor: BLUE, order: 2, ...lineStyle },
          { label: SERIES_NAMES[1], data: INSAR_POINTS as any, borderColor: RED, backgroundColor: RED, order: 1, ...lineStyle },
        ],
      },
      options: {
        responsive: false,
        animation: false,
        events: [],
        layout: { padding: { left: 0, top: 25, right: CANVAS_W - PLOT_RIGHT, bottom: TOP_H - 248 } },
        plugins: { legend: { display: false }, tooltip: { enabled: false }, title: { display: false } },
        scales: {
          x: { type: "linear", min: N_MIN, max: N_MAX, display: false },
          y: {
            type: "linear",
            min: HEIGHT_MIN,
            max: HEIGHT_MAX,
            grid: { display: false, drawTicks: false },
            border: { display: false },
            ticks: { padding: 4, font: tickFont, color: INK, callback: (v: any) => String(v) },
            afterBuildTicks: (s: any) => { s.ticks = HEIGHT_TICKS.map((v) => ({ value: v })); },
            afterFit: (s: any) => { s.width = PLOT_LEFT; },
          },
        },
      },
      plugins: [profileDecor],
    });

    const bottom = new Chart(bottomRef.current, {
      type: "scatter",
      data: {
        datasets: [
          { label: "difference", data: DIFF_POINTS as any, borderColor: BLUE, backgroundColor: BLUE, pointRadius: 2.3, pointBorderWidth: 0, pointHoverRadius: 0 },
        ],
      },
      options: {
        responsive: false,
        animation: false,
        events: [],
        layout: { padding: { left: 0, top: 334 - BOTTOM_TOP, right: CANVAS_W - PLOT_RIGHT, bottom: 0 } },
        plugins: { legend: { display: false }, tooltip: { enabled: false }, title: { display: false } },
        scales: {
          x: {
            type: "linear",
            min: N_MIN,
            max: N_MAX,
            grid: { display: false, drawTicks: false },
            border: { display: false },
            ticks: { padding: 6, font: tickFont, color: INK, maxRotation: 0, callback: (v: any) => String(v) },
            afterBuildTicks: (s: any) => { s.ticks = N_TICKS.map((v) => ({ value: v })); },
            afterFit: (s: any) => { s.height = BOTTOM_H - (557 - BOTTOM_TOP); },
          },
          y: {
            type: "linear",
            min: DIFF_MIN,
            max: DIFF_MAX,
            grid: { display: false, drawTicks: false },
            border: { display: false },
            ticks: { padding: 4, font: tickFont, color: INK, callback: (v: any) => String(v) },
            afterBuildTicks: (s: any) => { s.ticks = DIFF_TICKS.map((v) => ({ value: v })); },
            afterFit: (s: any) => { s.width = PLOT_LEFT; },
          },
        },
      },
      plugins: [diffDecor],
    });

    return () => {
      top.destroy();
      bottom.destroy();
    };
  }, []);

  return (
    <div style={{ position: "absolute", left: 0, top: 0, width: 827, height: 602, overflow: "hidden", background: "#fff" }}>
      <canvas ref={topRef} width={CANVAS_W} height={TOP_H} style={{ position: "absolute", left: 0, top: 0, width: CANVAS_W, height: TOP_H }} />
      <canvas ref={bottomRef} width={CANVAS_W} height={BOTTOM_H} style={{ position: "absolute", left: 0, top: BOTTOM_TOP, width: CANVAS_W, height: BOTTOM_H }} />
    </div>
  );
}
